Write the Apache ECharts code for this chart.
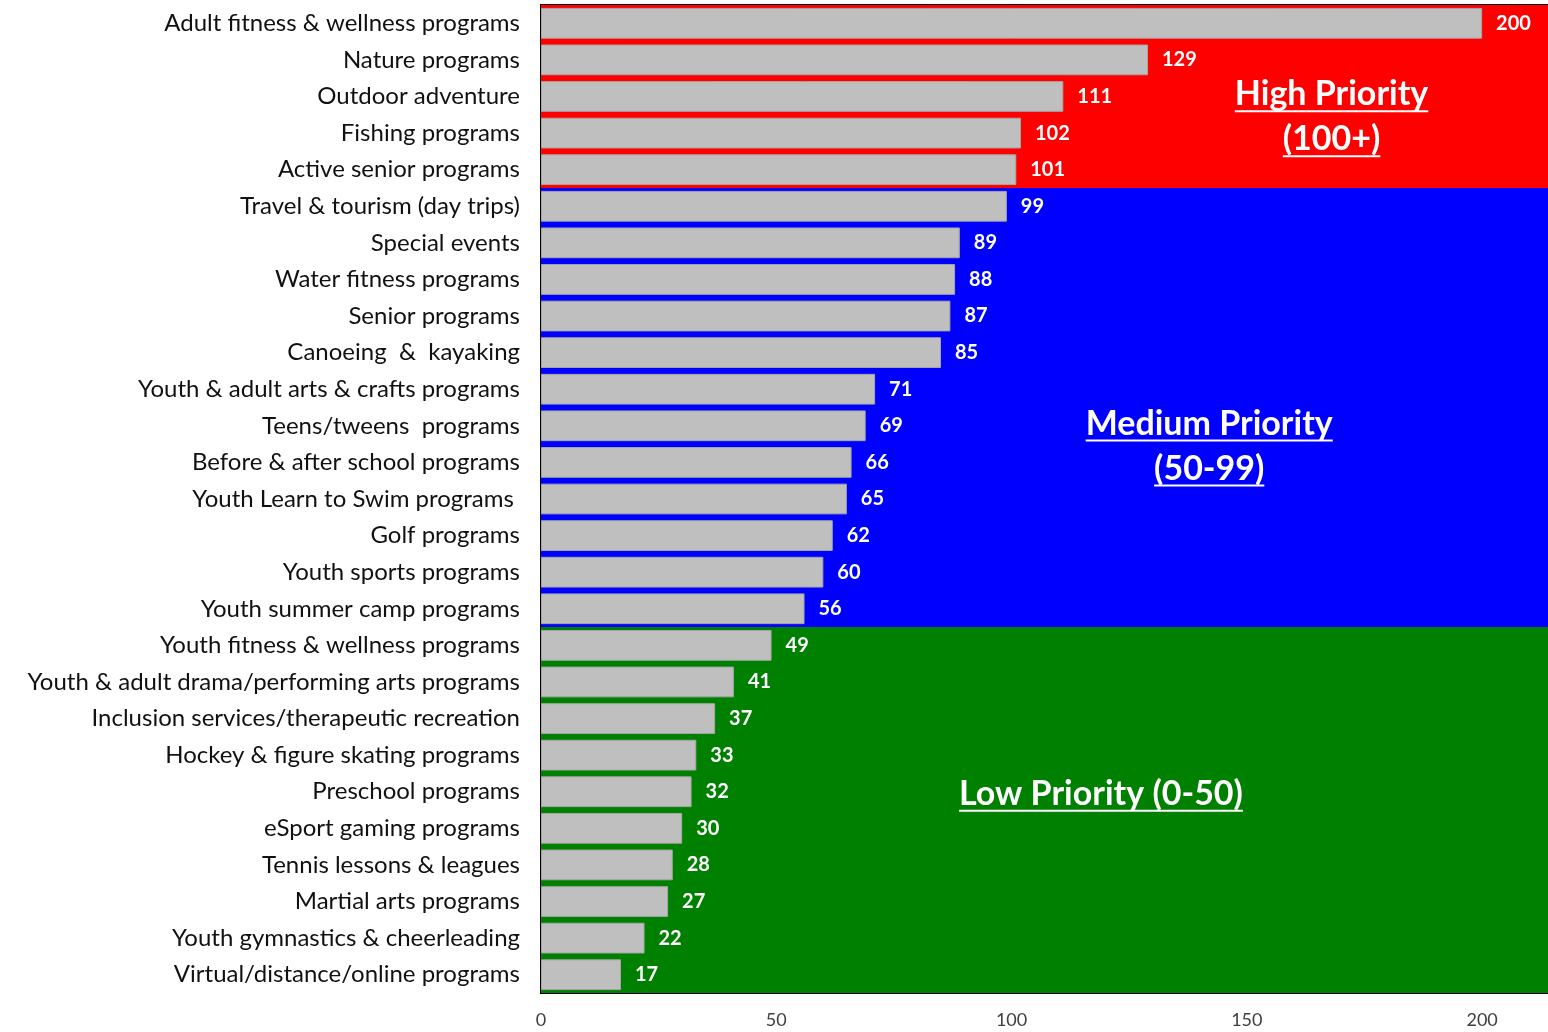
<!DOCTYPE html>
<html>
<head>
<meta charset="utf-8">
<script src="https://cdn.jsdelivr.net/npm/echarts@6/dist/echarts.min.js"></script>
<style>
  html, body { margin: 0; padding: 0; background: #fff; }
  #chart { width: 1548px; height: 1032px; }
</style>
</head>
<body>
<div id="chart"></div>
<script>
// programs, top to bottom
const programs = [
  'Adult fitness & wellness programs', 'Nature programs', 'Outdoor adventure',
  'Fishing programs', 'Active senior programs', 'Travel & tourism (day trips)',
  'Special events', 'Water fitness programs', 'Senior programs',
  'Canoeing  &  kayaking', 'Youth & adult arts & crafts programs', 'Teens/tweens  programs',
  'Before & after school programs', 'Youth Learn to Swim programs ', 'Golf programs',
  'Youth sports programs', 'Youth summer camp programs', 'Youth fitness & wellness programs',
  'Youth & adult drama/performing arts programs', 'Inclusion services/therapeutic recreation',
  'Hockey & figure skating programs', 'Preschool programs', 'eSport gaming programs',
  'Tennis lessons & leagues', 'Martial arts programs', 'Youth gymnastics & cheerleading',
  'Virtual/distance/online programs'
];
const scores = [200, 129, 111, 102, 101, 99, 89, 88, 87, 85, 71, 69, 66, 65, 62, 60, 56,
                49, 41, 37, 33, 32, 30, 28, 27, 22, 17];
const xTicks = [0, 50, 100, 150, 200];
const xMax = 214;

// priority bands: lower bound of score and colour
const bandMins = [100, 50, 0];
const bandColors = ['#FF0000', '#0000FF', '#008000'];
const bandTitles = [['High Priority', '(100+)'], ['Medium Priority', '(50-99)'], ['Low Priority (0-50)']];
const bandLabelX = [168, 142, 119];          // value axis position of band titles
const bandLabelRows = [[2, 3], [11, 12], [21, 21]];

function bandOf(v) {
  for (let i = 0; i < bandMins.length; i++) if (v >= bandMins[i]) return i;
  return bandMins.length - 1;
}

// first and last row of each band
const bandRanges = bandMins.map((m, b) => {
  const rows = scores.map((v, i) => bandOf(v) === b ? i : -1).filter(i => i >= 0);
  return [rows[0], rows[rows.length - 1], b];
});

const chart = echarts.init(document.getElementById('chart'));
const FONT = 'Lato, "Open Sans", sans-serif';

chart.setOption({
  animation: false,
  grid: {
    left: 541, right: -2, top: 5, bottom: 39,
    show: true, borderColor: '#000', borderWidth: 2, backgroundColor: 'transparent'
  },
  xAxis: {
    type: 'value', min: 0, max: xMax, interval: 50,
    splitLine: { show: false },
    axisLine: { show: true, lineStyle: { color: '#000', width: 2 } },
    axisTick: { show: false },
    axisLabel: {
      margin: 18, fontFamily: FONT, fontSize: 18, color: '#404040',
      showMaxLabel: false,
      formatter: v => xTicks.includes(v) ? String(v) : ''
    }
  },
  yAxis: {
    type: 'category', data: programs, inverse: true,
    splitLine: { show: false },
    axisLine: { show: true, lineStyle: { color: '#000', width: 2 } },
    axisTick: { show: false },
    axisLabel: { margin: 21, fontFamily: FONT, fontSize: 24, color: '#111' }
  },
  series: [
    {
      // coloured priority bands behind the bars
      type: 'custom', silent: true, z: 1,
      data: bandRanges,
      encode: { y: [0, 1] },
      renderItem: (params, api) => {
        const half = api.size([0, 1])[1] / 2;
        const top = api.coord([0, api.value(0)])[1] - half;
        const bot = api.coord([0, api.value(1)])[1] + half;
        const x0 = api.coord([0, 0])[0];
        const x1 = api.coord([xMax, 0])[0];
        return {
          type: 'rect',
          shape: { x: x0, y: top, width: x1 - x0, height: bot - top },
          style: { fill: bandColors[api.value(2)] }
        };
      }
    },
    {
      type: 'bar', barCategoryGap: '16%', z: 3,
      itemStyle: { color: '#BFBFBF', borderColor: '#A6A6A6', borderWidth: 1 },
      label: {
        show: true, position: 'right', distance: 14,
        color: '#fff', fontFamily: FONT, fontWeight: 'bold', fontSize: 20
      },
      data: scores
    }
  ]
});

// band titles, underlined
const ctx = document.createElement('canvas').getContext('2d');
const titleFont = 'bold 34px Lato, "Open Sans", sans-serif';
ctx.font = titleFont;
const graphics = [];
bandTitles.forEach((lines, b) => {
  const pA = chart.convertToPixel({ gridIndex: 0 }, [bandLabelX[b], bandLabelRows[b][0]]);
  const pB = chart.convertToPixel({ gridIndex: 0 }, [bandLabelX[b], bandLabelRows[b][1]]);
  const cx = pA[0];
  const cy = (pA[1] + pB[1]) / 2 + 2;
  const lh = 45;
  lines.forEach((t, i) => {
    const y = cy + (i - (lines.length - 1) / 2) * lh;
    const w = ctx.measureText(t).width;
    graphics.push({
      type: 'text', x: cx, y: y, z: 10,
      style: { text: t, font: titleFont, fill: '#fff', align: 'center', verticalAlign: 'middle' }
    });
    graphics.push({
      type: 'rect', z: 10,
      shape: { x: cx - w / 2, y: y + 16, width: w, height: 2 },
      style: { fill: '#fff' }
    });
  });
});
chart.setOption({ graphic: graphics });
</script>
</body>
</html>
